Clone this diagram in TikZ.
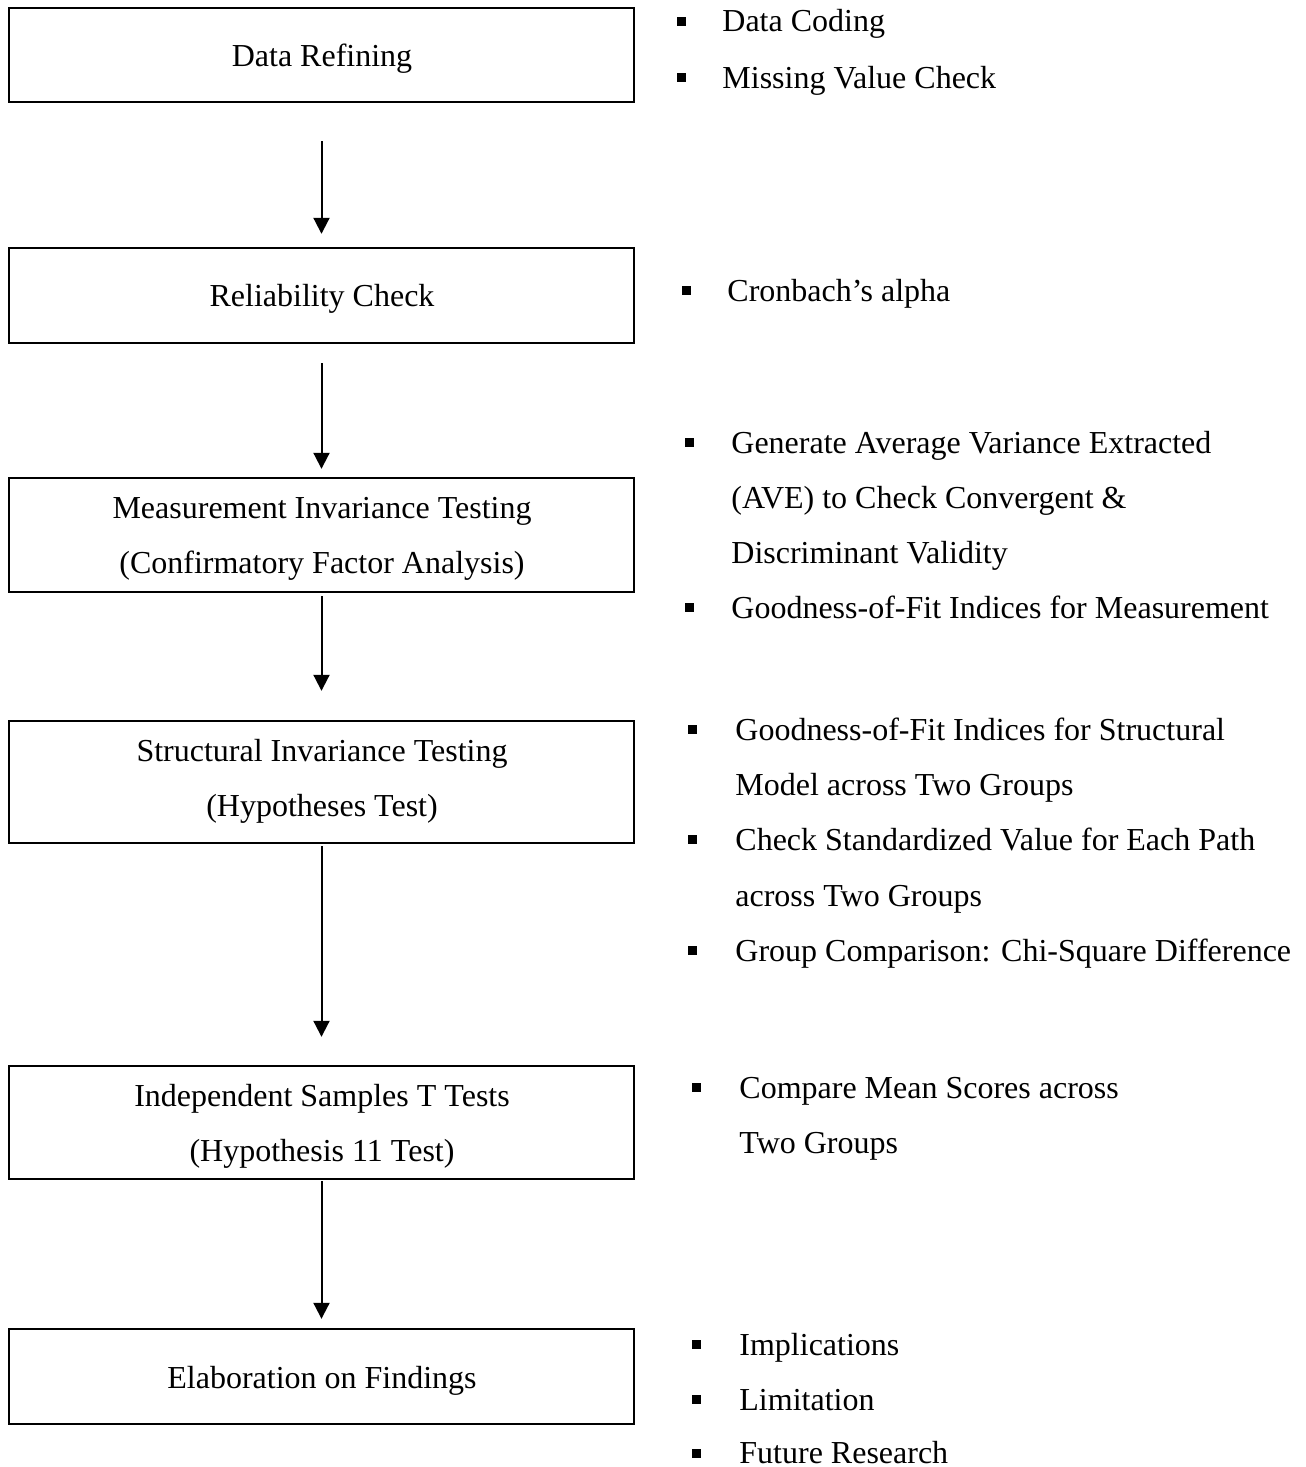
\documentclass[tikz,border=0pt]{standalone}
\usepackage{fontspec}
\setmainfont{Liberation Serif}
\usetikzlibrary{arrows.meta}

\begin{document}
\begin{tikzpicture}[
  x=0.5pt, y=-0.5pt,
  every node/.style={font=\fontsize{16}{27.5}\selectfont},
  stage/.style={draw, line width=1.2pt, minimum width=312.5pt, inner sep=0pt},
  boxtext/.style={anchor=base, inner sep=0pt},
  sq/.style={fill=black, minimum size=4.5pt, inner sep=0pt},
  item/.style={anchor=base west, inner sep=0pt},
  flow/.style={line width=1pt, -{Triangle[length=8pt, width=8pt]}}
]
\useasboundingbox (0,0) rectangle (1306,1467);

% stage boxes
\node[stage, minimum height=47pt]   (b1) at (321.5,55)    {};
\node[stage, minimum height=47.5pt] (b2) at (321.5,295.5) {};
\node[stage, minimum height=57pt]   (b3) at (321.5,535)   {};
\node[stage, minimum height=61pt]   (b4) at (321.5,782)   {};
\node[stage, minimum height=56.5pt] (b5) at (321.5,1122.5){};
\node[stage, minimum height=47.5pt] (b6) at (321.5,1376.5){};

% stage titles
\node[boxtext] (t1)  at (322,66)   {Data Refining};
\node[boxtext] (t2)  at (322,306)  {Reliability Check};
\node[boxtext] (t3a) at (322,518)  {Measurement Invariance Testing};
\node[boxtext] (t3b) at (322,573)  {(Confirmatory Factor Analysis)};
\node[boxtext] (t4a) at (322,761)  {Structural Invariance Testing};
\node[boxtext] (t4b) at (322,816)  {(Hypotheses Test)};
\node[boxtext] (t5a) at (322,1106) {Independent Samples T Tests};
\node[boxtext] (t5b) at (322,1161) {(Hypothesis 11 Test)};
\node[boxtext] (t6)  at (322,1388) {Elaboration on Findings};

% connectors between stages
\draw[flow, shorten <=19pt,  shorten >=6.5pt] (b1.south) -- (b2.north);
\draw[flow, shorten <=9.5pt, shorten >=4pt]   (b2.south) -- (b3.north);
\draw[flow, shorten <=1.5pt, shorten >=14.5pt](b3.south) -- (b4.north);
\draw[flow, shorten <=1pt,   shorten >=14pt]  (b4.south) -- (b5.north);
\draw[flow, shorten <=0.5pt, shorten >=4.5pt] (b5.south) -- (b6.north);

% tasks of each stage
\node[sq] (s1a) at (681,21.5) {};
\node[item] (i1a) at (722,32) {Data Coding};
\node[sq] (s1b) at (681,77.5) {};
\node[item] (i1b) at (722,88) {Missing Value Check};

\node[sq] (s2a) at (686,290.5) {};
\node[item] (i2a) at (727,301) {Cronbach’s alpha};

\node[sq] (s3a) at (689,442.5) {};
\node[item] (i3a) at (731,453) {Generate Average Variance Extracted};
\node[item] (i3b) at (731,508) {(AVE) to Check Convergent \&};
\node[item] (i3c) at (731,563) {Discriminant Validity};
\node[sq] (s3b) at (689,607.5) {};
\node[item] (i3d) at (731,618) {Goodness-of-Fit Indices for Measurement};

\node[sq] (s4a) at (692,729.5) {};
\node[item] (i4a) at (735,740) {Goodness-of-Fit Indices for Structural};
\node[item] (i4b) at (735,795) {Model across Two Groups};
\node[sq] (s4b) at (692,839.5) {};
\node[item] (i4c) at (735,850) {Check Standardized Value for Each Path};
\node[item] (i4d) at (735,906) {across Two Groups};
\node[sq] (s4c) at (692,950.5) {};
\node[item] (i4e) at (735,961) {Group Comparison: Chi-Square Difference};

\node[sq] (s5a) at (696,1087.5) {};
\node[item] (i5a) at (739,1098) {Compare Mean Scores across};
\node[item] (i5b) at (739,1153) {Two Groups};

\node[sq] (s6a) at (696,1344.5) {};
\node[item] (i6a) at (739,1355) {Implications};
\node[sq] (s6b) at (696,1399.5) {};
\node[item] (i6b) at (739,1410) {Limitation};
\node[sq] (s6c) at (696,1453.5) {};
\node[item] (i6c) at (739,1463.5) {Future Research};
\end{tikzpicture}
\end{document}
